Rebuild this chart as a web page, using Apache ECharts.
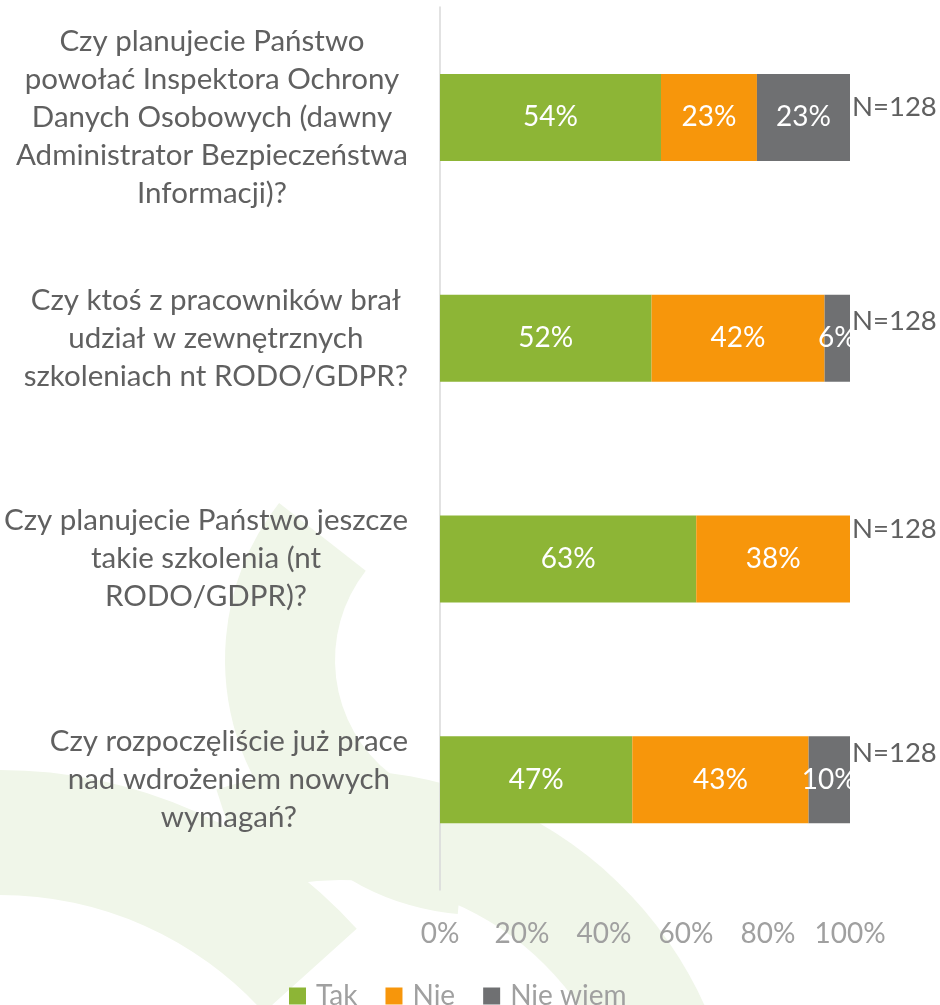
<!DOCTYPE html>
<html>
<head>
<meta charset="utf-8">
<script src="https://cdn.jsdelivr.net/npm/echarts@6/dist/echarts.min.js"></script>
<style>
  html, body { margin: 0; padding: 0; background: #fff; }
  #chart { width: 940px; height: 1005px; }
</style>
</head>
<body>
<div id="chart"></div>
<script>
// questions, top to bottom (line breaks as in the original)
const categories = [
  'Czy planujecie Państwo\npowołać Inspektora Ochrony\nDanych Osobowych (dawny\nAdministrator Bezpieczeństwa\nInformacji)?',
  'Czy ktoś z pracowników brał\nudział w zewnętrznych\nszkoleniach nt RODO/GDPR?',
  'Czy planujecie Państwo jeszcze\ntakie szkolenia (nt\nRODO/GDPR)?',
  'Czy rozpoczęliście już prace\nnad wdrożeniem nowych\nwymagań?'
];
const seriesNames = ['Tak', 'Nie', 'Nie wiem'];
const takValues = [53.9, 51.6, 62.5, 46.9];
const nieValues = [23.4, 42.2, 37.5, 43.0];
const nieWiemValues = [22.7, 6.2, 0, 10.1];
const sampleSizes = [128, 128, 128, 128];
const xTickLabels = ['0%', '20%', '40%', '60%', '80%', '100%'];

const FONT = 'Lato';
const colors = ['#8db536', '#f7960b', '#6f7072'];
// N=128 labels sit a bit above the bar centre, not evenly
const nLabelNudge = [-10, -17, -30, -27];

let chart = echarts.init(document.getElementById('chart'));

const pctLabel = {
  show: true,
  position: 'inside',
  color: '#fff',
  fontFamily: FONT,
  fontSize: 28,
  formatter: p => p.value > 0 ? Math.round(p.value) + '%' : ''
};

const bg = '#f0f6e9';
const deg = d => d * Math.PI / 180;

const option = {
  backgroundColor: '#fff',
  animation: false,
  graphic: [
    { type: 'sector', silent: true, z: -100,
      shape: { cx: 480, cy: 660, r0: 145, r: 255, startAngle: deg(95), endAngle: deg(218) },
      style: { fill: bg } },
    { type: 'sector', silent: true, z: -100,
      shape: { cx: 340, cy: 1170, r0: 290, r: 400, startAngle: deg(252), endAngle: deg(360) },
      style: { fill: bg } },
    { type: 'sector', silent: true, z: -100,
      shape: { cx: 0, cy: 1250, r0: 355, r: 480, startAngle: deg(270), endAngle: deg(318) },
      style: { fill: bg } }
  ],
  grid: { left: 440, right: 90, top: 7, bottom: 115, containLabel: false },
  legend: {
    data: seriesNames,
    left: 284,
    top: 977,
    icon: 'rect',
    itemWidth: 17,
    itemHeight: 17,
    itemGap: 28,
    textStyle: { fontFamily: FONT, fontSize: 28, color: '#a0a0a0', padding: [0, 0, 0, 5] }
  },
  xAxis: {
    type: 'value',
    min: 0,
    max: 100,
    interval: 20,
    axisLine: { show: false },
    axisTick: { show: false },
    splitLine: { show: false },
    axisLabel: {
      margin: 30,
      fontFamily: FONT,
      fontSize: 28,
      color: '#a0a0a0',
      formatter: v => xTickLabels[Math.round(v / 20)]
    }
  },
  yAxis: {
    type: 'category',
    inverse: true,
    data: categories,
    axisLine: { show: true, lineStyle: { color: '#d9d9d9', width: 1.5 } },
    axisTick: { show: false },
    axisLabel: {
      margin: 32,
      align: 'right',
      formatter: v => v.split('\n').map(s => '{c|' + s + '}').join('\n'),
      rich: {
        c: { align: 'center', fontFamily: FONT, fontSize: 29.5, lineHeight: 38, color: '#606060' }
      }
    }
  },
  series: [
    { name: 'Tak', type: 'bar', stack: 'all', barWidth: 87, data: takValues,
      itemStyle: { color: colors[0] }, label: pctLabel },
    { name: 'Nie', type: 'bar', stack: 'all', barWidth: 87, data: nieValues,
      itemStyle: { color: colors[1] }, label: pctLabel },
    { name: 'Nie wiem', type: 'bar', stack: 'all', barWidth: 87, data: nieWiemValues,
      itemStyle: { color: colors[2] }, label: pctLabel },
    {
      name: 'N', type: 'bar', stack: 'all', barWidth: 87,
      data: sampleSizes.map((n, i) => ({ value: 0, label: { offset: [0, nLabelNudge[i]] } })),
      itemStyle: { color: 'transparent' },
      label: {
        show: true,
        position: 'right',
        distance: 2,
        fontFamily: FONT,
        fontSize: 27.5,
        color: '#606060',
        formatter: p => 'N=' + sampleSizes[p.dataIndex]
      }
    }
  ]
};

chart.setOption(option);
</script>
</body>
</html>
